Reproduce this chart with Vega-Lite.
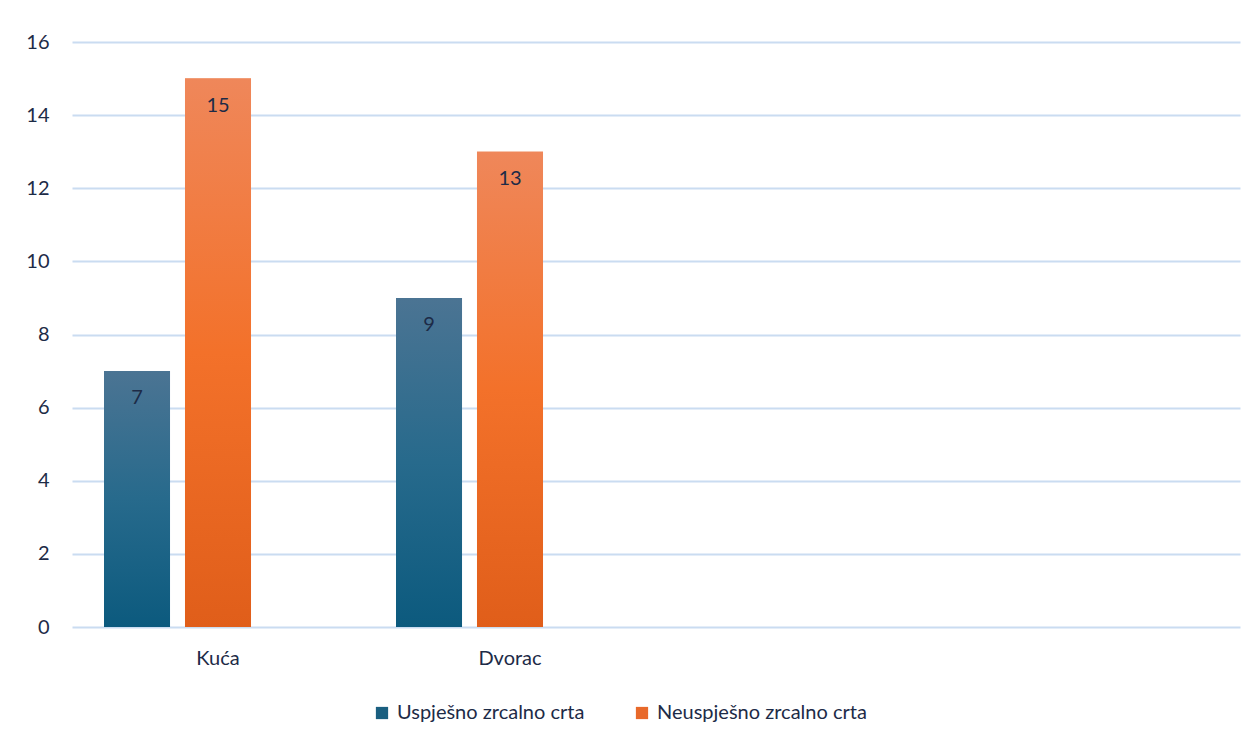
{
  "$schema": "https://vega.github.io/schema/vega-lite/v6.json",
  "autosize": {"type": "none"},
  "padding": {"left": 72, "top": 42, "right": 20, "bottom": 117},
  "width": 1168,
  "height": 585,
  "background": "white",
  "config": {
    "view": {"stroke": null},
    "font": "Lato",
    "axis": {"labelFont": "Lato", "labelColor": "#1d2b47", "labelFontSize": 20},
    "legend": {"labelFont": "Lato", "labelColor": "#1d2b47", "labelFontSize": 20, "labelLimit": 0}
  },
  "data": {
    "values": [
      {"category": "Kuća", "series": "Uspješno zrcalno crta", "value": 7},
      {"category": "Kuća", "series": "Neuspješno zrcalno crta", "value": 15},
      {"category": "Dvorac", "series": "Uspješno zrcalno crta", "value": 9},
      {"category": "Dvorac", "series": "Neuspješno zrcalno crta", "value": 13}
    ]
  },
  "encoding": {
    "x": {
      "field": "category", "type": "nominal", "sort": null,
      "scale": {"domain": ["Kuća", "Dvorac", "c3", "c4"], "paddingInner": 0.2192, "paddingOuter": 0.1096},
      "axis": {"title": null, "domain": false, "ticks": false, "tickSize": 0, "labelPadding": 21, "labelAngle": 0,
               "labelExpr": "datum.value == 'Kuća' || datum.value == 'Dvorac' ? datum.value : ''"}
    },
    "xOffset": {
      "field": "series", "type": "nominal",
      "scale": {"domain": ["Uspješno zrcalno crta", "Neuspješno zrcalno crta", "s3"], "paddingInner": 0.185, "paddingOuter": 0}
    },
    "y": {
      "field": "value", "type": "quantitative",
      "scale": {"domain": [0, 16], "nice": false},
      "axis": {"title": null, "domain": false, "ticks": false, "tickSize": 0, "labelPadding": 23,
               "values": [0, 2, 4, 6, 8, 10, 12, 14, 16], "grid": true, "gridColor": "#cadcf1", "gridWidth": 2}
    }
  },
  "layer": [
    {
      "mark": {"type": "bar"},
      "encoding": {
        "color": {
          "field": "series", "type": "nominal",
          "scale": {"domain": ["Uspješno zrcalno crta", "Neuspješno zrcalno crta"], "range": ["#1a5f80", "#e8692a"]},
          "legend": {"title": null, "orient": "none", "direction": "horizontal", "legendX": 300, "legendY": 661,
                     "symbolType": "square", "symbolSize": 150, "symbolStrokeWidth": 0, "columnPadding": 47, "labelOffset": 5}
        }
      }
    },
    {
      "transform": [{"filter": "datum.series == 'Uspješno zrcalno crta'"}],
      "mark": {"type": "bar", "color": {"gradient": "linear", "x1": 0, "y1": 0, "x2": 0, "y2": 1,
        "stops": [{"offset": 0, "color": "#4b7493"}, {"offset": 0.5, "color": "#276a8c"}, {"offset": 1, "color": "#0c5a7e"}]}}
    },
    {
      "transform": [{"filter": "datum.series == 'Neuspješno zrcalno crta'"}],
      "mark": {"type": "bar", "color": {"gradient": "linear", "x1": 0, "y1": 0, "x2": 0, "y2": 1,
        "stops": [{"offset": 0, "color": "#ef875a"}, {"offset": 0.5, "color": "#f3712a"}, {"offset": 1, "color": "#e05e1a"}]}}
    },
    {
      "mark": {"type": "text", "baseline": "middle", "dy": 27, "fontSize": 20, "color": "#1d2b47", "font": "Lato"},
      "encoding": {"text": {"field": "value", "type": "quantitative"}}
    }
  ]
}
